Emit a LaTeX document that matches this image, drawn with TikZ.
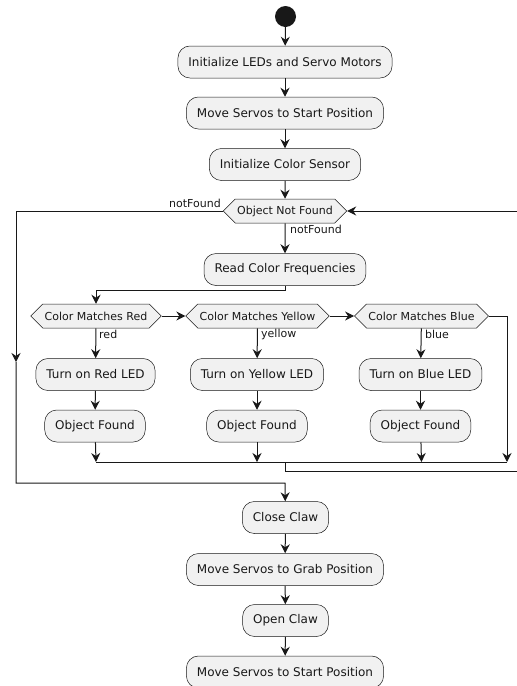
\documentclass[tikz,border=0pt]{standalone}
\usepackage{fontspec}
\setmainfont{DejaVu Sans}
\usetikzlibrary{arrows.meta,shapes.symbols}
\definecolor{ink}{HTML}{181818}
\definecolor{boxfill}{HTML}{F1F1F1}
\begin{document}
\begin{tikzpicture}[x=1pt,y=-1pt,
  act/.style={draw=ink, line width=0.5pt, fill=boxfill, rounded corners=12pt,
    minimum height=32pt, inner xsep=10.5pt, text=ink, font=\fontsize{12}{14}\selectfont},
  dec/.style={shape=signal, signal to=west and east, signal pointer angle=90,
    draw=ink, line width=0.5pt, fill=boxfill, minimum height=24pt,
    inner xsep=2pt, inner ysep=0pt, text=ink, font=\fontsize{11}{13}\selectfont},
  lbl/.style={font=\fontsize{11}{13}\selectfont, inner sep=0pt, text=ink},
  flow/.style={draw=ink, line width=1pt, -{Stealth[length=9pt,width=9pt,inset=3pt]}},
  wire/.style={draw=ink, line width=1pt}]
\useasboundingbox (0,0) rectangle (517,686);

% start
\node[circle, fill=ink, minimum size=21pt, inner sep=0pt] (start) at (285.5,16.5) {};

% initialisation
\node[act] (init) at (285,62) {Initialize LEDs and Servo Motors};
\node[act] (home) at (285,113) {Move Servos to Start Position};
\node[act] (sensor) at (285,164.5) {Initialize Color Sensor};

% search loop
\node[dec] (notfound) at (285,211) {Object Not Found};
\node[act] (read) at (285,269.5) {Read Color Frequencies};

% colour tests
\node[dec] (isred) at (96,316) {Color Matches Red};
\node[dec] (isyellow) at (257.5,316) {Color Matches Yellow};
\node[dec] (isblue) at (421.5,316) {Color Matches Blue};

\node[act] (ledred) at (95.5,374.5) {Turn on Red LED};
\node[act] (ledyellow) at (257,374.5) {Turn on Yellow LED};
\node[act] (ledblue) at (420.5,374.5) {Turn on Blue LED};

\node[act] (foundred) at (95,426) {Object Found};
\node[act] (foundyellow) at (257,426) {Object Found};
\node[act] (foundblue) at (420.5,426) {Object Found};

% grabbing sequence
\node[act] (close) at (285.5,517.5) {Close Claw};
\node[act] (grab) at (285,569.5) {Move Servos to Grab Position};
\node[act] (open) at (285.5,620.5) {Open Claw};
\node[act] (back) at (285,672) {Move Servos to Start Position};

% routing points
\coordinate (split) at (285,290);
\coordinate (joinL) at (96,462);
\coordinate (joinY) at (257,462);
\coordinate (joinB) at (421.5,462);
\coordinate (bypass) at (507,316);
\coordinate (joinR) at (507,462);
\coordinate (joinMid) at (285,462);
\coordinate (loopLow) at (285,471);
\coordinate (loopEdge) at (520,471);
\coordinate (loopTop) at (520,211);
\coordinate (exitTop) at (16,211);
\coordinate (exitMark) at (16,362);
\coordinate (exitLow) at (16,483);
\coordinate (exitJoin) at (285,483);

% main sequence
\draw[flow] (start) -- (init);
\draw[flow] (init) -- (home);
\draw[flow] (home) -- (sensor);
\draw[flow] (sensor) -- (notfound);
\draw[flow] (notfound) -- (read);
\draw[flow] (read.south) -- (split) -| (isred.north);
\draw[flow] (isred.east) -- (isyellow.west);
\draw[flow] (isyellow.east) -- (isblue.west);

\draw[flow] (isred) -- (ledred);
\draw[flow] (isyellow) -- (ledyellow);
\draw[flow] (isblue) -- (ledblue);
\draw[flow] (ledred) -- (foundred);
\draw[flow] (ledyellow) -- (foundyellow);
\draw[flow] (ledblue) -- (foundblue);
\draw[flow] (foundred) -- (joinL);
\draw[flow] (foundyellow) -- (joinY);
\draw[flow] (foundblue) -- (joinB);
\draw[flow] (isblue.east) -- (bypass) -- (joinR);
\draw[wire] (joinL) -- (joinR);

% back to the loop test
\draw[flow] (joinMid) -- (loopLow) -- (loopEdge) -- (loopTop) -- (notfound.east);

% loop exit
\draw[flow] (notfound.west) -- (exitTop) -- (exitMark);
\draw[flow] (exitMark) -- (exitLow) -- (exitJoin) -- (close);
\draw[flow] (close) -- (grab);
\draw[flow] (grab) -- (open);
\draw[flow] (open) -- (back);

% branch labels
\node[lbl, anchor=south east] at (221,208) {notFound};
\node[lbl, anchor=west] at (290,229) {notFound};
\node[lbl, anchor=west] at (99,334) {red};
\node[lbl, anchor=west] at (261,334) {yellow};
\node[lbl, anchor=west] at (425,334) {blue};
\end{tikzpicture}
\end{document}
